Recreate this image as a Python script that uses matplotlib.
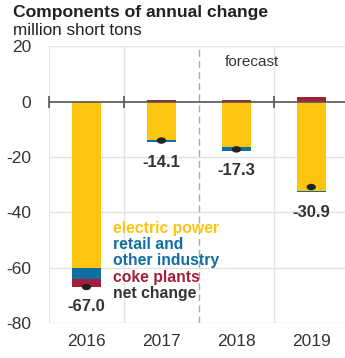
import matplotlib
matplotlib.use("Agg")
import matplotlib.pyplot as plt
from matplotlib.path import Path
from matplotlib.transforms import Affine2D

plt.rcParams["font.family"] = ["Liberation Sans", "DejaVu Sans"]
plt.rcParams["axes.unicode_minus"] = False

years = ["2016", "2017", "2018", "2019"]
electric_power = [-60.0, -14.0, -16.5, -32.3]
retail_other = [-4.0, -0.8, -1.3, -0.4]
coke_plants = [-3.0, 0.7, 0.5, 1.8]
net_change = [-67.0, -14.1, -17.3, -30.9]

yellow = "#FDC50F"
blue = "#0F6FA3"
red = "#A31F3A"
dark = "#333333"

fig = plt.figure(figsize=(3.45, 3.58), dpi=100)
ax = fig.add_axes([0.142, 0.098, 0.858, 0.773])

x = list(range(len(years)))
w = 0.39

# stack negatives downward, positives upward
for i in x:
    neg = 0.0
    pos = 0.0
    for val, col in [(electric_power[i], yellow), (retail_other[i], blue), (coke_plants[i], red)]:
        if val < 0:
            ax.bar(i, val, w, bottom=neg, color=col, zorder=3)
            neg += val
        else:
            ax.bar(i, val, w, bottom=pos, color=col, zorder=3)
            pos += val
    ax.annotate(f"{net_change[i]:.1f}", (i, neg), xytext=(0, -9), textcoords="offset points",
                ha="center", va="top", fontsize=12, fontweight="bold", color=dark)

# net change dot, a flat ellipse
ellipse = Path.unit_circle().transformed(Affine2D().scale(1.45, 1.0))
ax.scatter(x, net_change, s=45, marker=ellipse, color="#222222", zorder=4,
           edgecolors="none")

ax.set_xlim(-0.5, 3.45)
ax.set_ylim(-80, 20)
ax.set_yticks([20, 0, -20, -40, -60, -80])
ax.set_xticks(x)
ax.set_xticklabels(years)
ax.tick_params(axis="both", length=0, labelsize=12.5, colors=dark, pad=8)
ax.tick_params(axis="y", pad=13)

for s in ax.spines.values():
    s.set_visible(False)

for yv in [20, -20, -40, -60, -80]:
    ax.axhline(yv, color="#e3e3e3", lw=1, zorder=1)
for xv in [-0.5, 0.5, 2.5]:
    ax.axvline(xv, color="#e3e3e3", lw=1, zorder=1)
ax.axvline(1.5, color="#aaaaaa", lw=1, ls=(0, (5, 3)), zorder=1)
ax.axhline(0, color="#555555", lw=1.2, zorder=5)
ax.plot([-0.5, 0.5, 2.5], [0, 0, 0], ls="none", marker="|", ms=9, mew=1.2,
        color="#555555", zorder=5, clip_on=False)

ax.text(1.85, 14.2, "forecast", fontsize=11, color=dark, ha="left", va="center")

legend_items = [("electric power", yellow), ("retail and", blue), ("other industry", blue),
                ("coke plants", red), ("net change", dark)]
for k, (label, col) in enumerate(legend_items):
    ax.text(0.35, -45.8 - k * 5.9, label, fontsize=11.3, fontweight="bold", color=col,
            ha="left", va="center")

fig.text(0.038, 0.966, "Components of annual change", fontsize=12.6, fontweight="bold",
         color="#222222", ha="left", va="center")
fig.text(0.038, 0.916, "million short tons", fontsize=12.3, color="#222222",
         ha="left", va="center")

fig.savefig("out.png", dpi=100)
